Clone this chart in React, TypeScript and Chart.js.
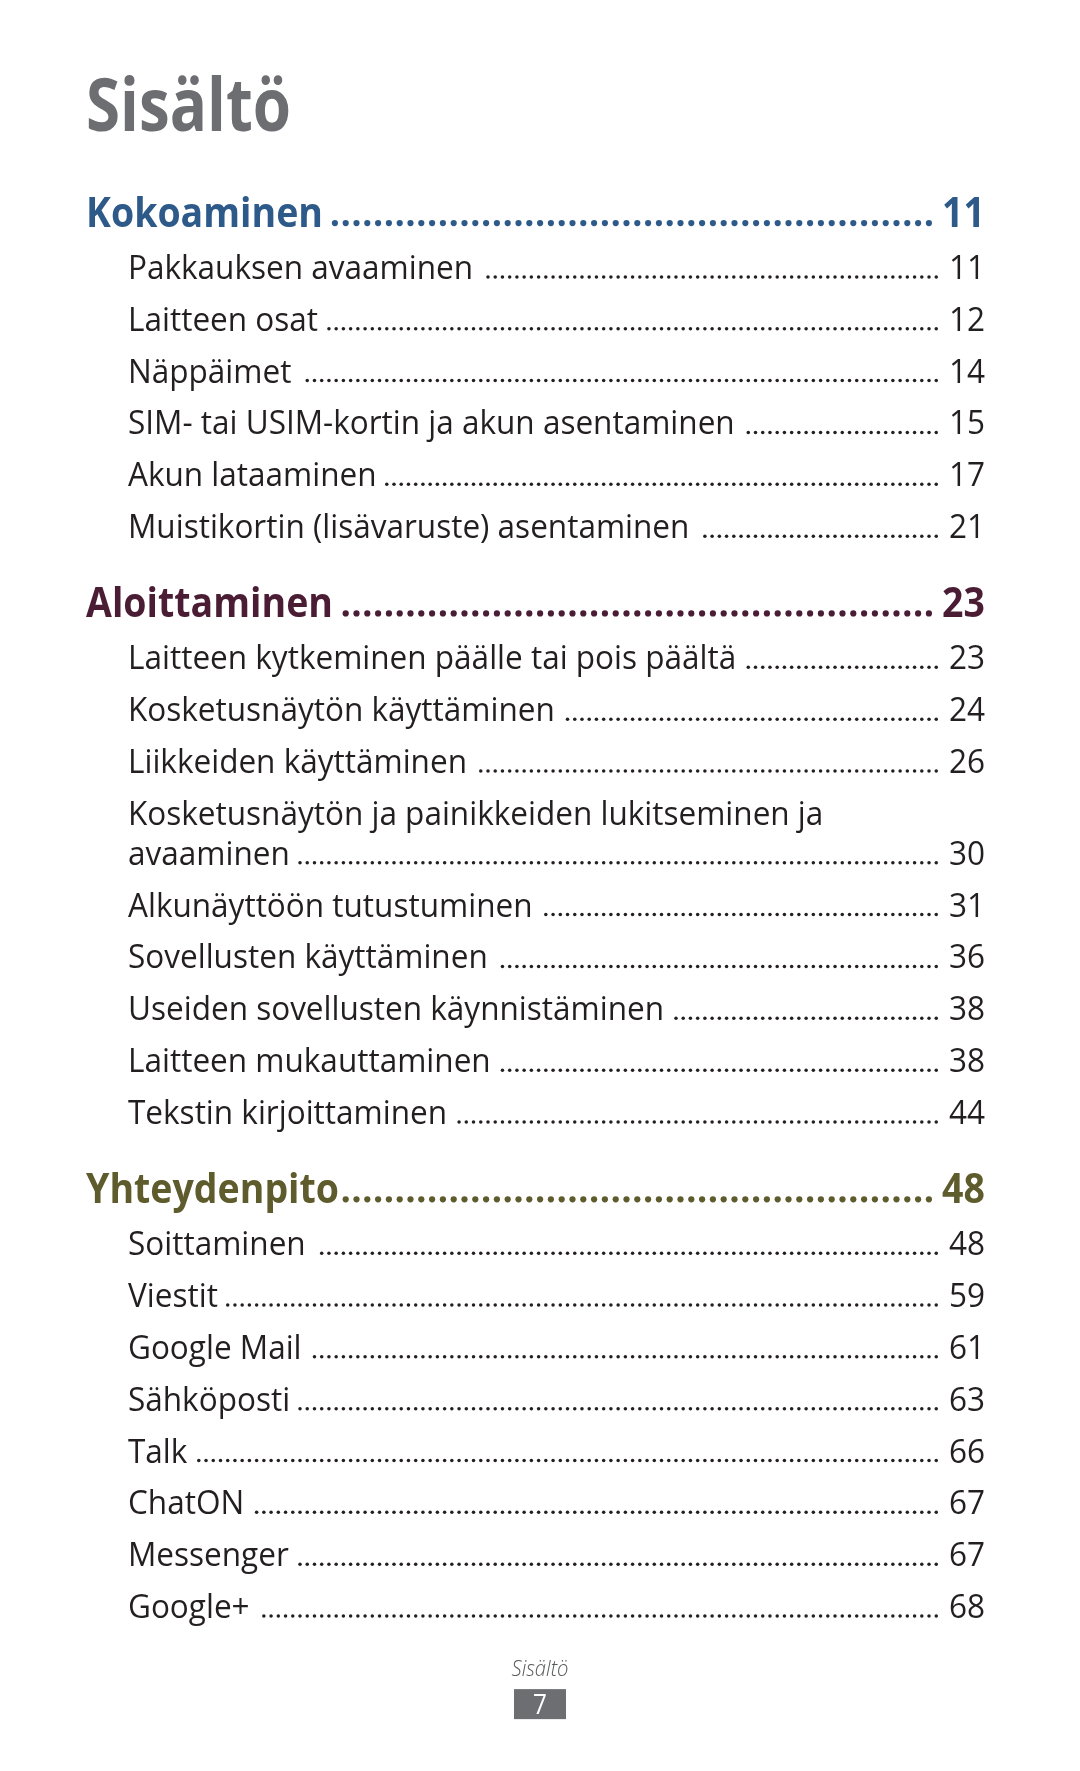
import React, { useEffect, useRef } from "react";
import { Chart, registerables } from "chart.js";

Chart.register(...registerables);

// ---------- content ----------
const TITLE = "Sisältö";
const SECTION_TITLES = ["Kokoaminen", "Aloittaminen", "Yhteydenpito"];
const SECTION_PAGES = ["11", "23", "48"];
const SECTION_COLORS = ["#2e5a8a", "#4a1d35", "#5e5b2d"];

const KOKOAMINEN_ITEMS = [
  "Pakkauksen avaaminen",
  "Laitteen osat",
  "Näppäimet",
  "SIM- tai USIM-kortin ja akun asentaminen",
  "Akun lataaminen",
  "Muistikortin (lisävaruste) asentaminen",
];
const KOKOAMINEN_PAGES = ["11", "12", "14", "15", "17", "21"];

const ALOITTAMINEN_ITEMS = [
  "Laitteen kytkeminen päälle tai pois päältä",
  "Kosketusnäytön käyttäminen",
  "Liikkeiden käyttäminen",
  "Kosketusnäytön ja painikkeiden lukitseminen ja\navaaminen",
  "Alkunäyttöön tutustuminen",
  "Sovellusten käyttäminen",
  "Useiden sovellusten käynnistäminen",
  "Laitteen mukauttaminen",
  "Tekstin kirjoittaminen",
];
const ALOITTAMINEN_PAGES = ["23", "24", "26", "30", "31", "36", "38", "38", "44"];

const YHTEYDENPITO_ITEMS = [
  "Soittaminen",
  "Viestit",
  "Google Mail",
  "Sähköposti",
  "Talk",
  "ChatON",
  "Messenger",
  "Google+",
];
const YHTEYDENPITO_PAGES = ["48", "59", "61", "63", "66", "67", "67", "68"];

const FOOTER_LABEL = "Sisältö";
const PAGE_NUMBER = "7";

// ---------- layout (row units on the y scale) ----------
const ROW = 1;
const HEADING_GAP = 1.53;
const WRAP_GAP = 0.77;
const TITLE_SLOT = -1.86;
const FOOTER_SLOT = 27.95;
const Y_MIN = -4.38;
const Y_MAX = 29.78;

const LEFT_HEAD = 86;
const LEFT_ENTRY = 128;
const RIGHT = 985;
const HEAD_LEADER_END = 932;
const ENTRY_LEADER_END = 938;

type Row = {
  kind: "heading" | "entry";
  lines: string[];
  page: string;
  color: string;
  slots: number[];
};

function buildRows(): Row[] {
  const sections = [
    [KOKOAMINEN_ITEMS, KOKOAMINEN_PAGES],
    [ALOITTAMINEN_ITEMS, ALOITTAMINEN_PAGES],
    [YHTEYDENPITO_ITEMS, YHTEYDENPITO_PAGES],
  ];
  const rows: Row[] = [];
  let slot = 0;
  sections.forEach(([items, pages], si) => {
    if (si > 0) slot += HEADING_GAP;
    rows.push({
      kind: "heading",
      lines: [SECTION_TITLES[si]],
      page: SECTION_PAGES[si],
      color: SECTION_COLORS[si],
      slots: [slot],
    });
    (items as string[]).forEach((it, i) => {
      slot += ROW;
      const lines = it.split("\n");
      const slots = [slot];
      for (let k = 1; k < lines.length; k++) {
        slot += WRAP_GAP;
        slots.push(slot);
      }
      rows.push({ kind: "entry", lines, page: (pages as string[])[i], color: "#231f20", slots });
    });
  });
  return rows;
}

const FAMILY = '"Open Sans", "Noto Sans", sans-serif';

function drawText(
  ctx: CanvasRenderingContext2D,
  text: string,
  x: number,
  y: number,
  font: string,
  color: string,
  sx: number,
  align: "left" | "right" | "center"
) {
  ctx.save();
  ctx.font = font;
  ctx.fillStyle = color;
  ctx.textBaseline = "alphabetic";
  ctx.textAlign = "left";
  const w = ctx.measureText(text).width * sx;
  const x0 = align === "right" ? x - w : align === "center" ? x - w / 2 : x;
  ctx.translate(x0, y);
  ctx.scale(sx, 1);
  ctx.fillText(text, 0, 0);
  ctx.restore();
  return { x0, x1: x0 + w };
}

function calib(ctx: CanvasRenderingContext2D, font: string, sample: string, target: number) {
  ctx.save();
  ctx.font = font;
  const w = ctx.measureText(sample).width;
  ctx.restore();
  return w > 0 ? target / w : 1;
}

function leader(
  ctx: CanvasRenderingContext2D,
  x0: number,
  x1: number,
  y: number,
  spacing: number,
  r: number,
  color: string
) {
  ctx.save();
  ctx.fillStyle = color;
  for (let x = x1 - r; x >= x0 + r; x -= spacing) {
    ctx.beginPath();
    ctx.arc(x, y, r, 0, Math.PI * 2);
    ctx.fill();
  }
  ctx.restore();
}

const tocPlugin = {
  id: "toc",
  afterDraw(chart: any) {
    const ctx: CanvasRenderingContext2D = chart.ctx;
    const xs = chart.scales.x;
    const ys = chart.scales.y;
    const X = (v: number) => xs.getPixelForValue(v);
    const Y = (v: number) => ys.getPixelForValue(v);

    const titleFont = `700 74px ${FAMILY}`;
    const headFont = `700 42px ${FAMILY}`;
    const entryFont = `400 32px ${FAMILY}`;
    const footFont = `italic 300 22px ${FAMILY}`;
    const pageFont = `400 27px ${FAMILY}`;

    const titleSx = calib(ctx, titleFont, TITLE, 205);
    const headSx = calib(ctx, headFont, "Kokoaminen", 237);
    const entrySx = calib(ctx, entryFont, "Pakkauksen avaaminen", 345);

    drawText(ctx, TITLE, X(LEFT_HEAD), Y(TITLE_SLOT), titleFont, "#6d6e71", titleSx, "left");

    buildRows().forEach((row) => {
      if (row.kind === "heading") {
        const y = Y(row.slots[0]);
        const t = drawText(ctx, row.lines[0], X(LEFT_HEAD), y, headFont, row.color, headSx, "left");
        drawText(ctx, row.page, X(RIGHT), y, headFont, row.color, headSx, "right");
        leader(ctx, t.x1 + 3, X(HEAD_LEADER_END), y - 4, 10.8, 3.1, row.color);
      } else {
        row.lines.forEach((line, i) => {
          const y = Y(row.slots[i]);
          const t = drawText(ctx, line, X(LEFT_ENTRY), y, entryFont, row.color, entrySx, "left");
          if (i === row.lines.length - 1) {
            drawText(ctx, row.page, X(RIGHT), y, entryFont, row.color, entrySx, "right");
            leader(ctx, t.x1 + 8, X(ENTRY_LEADER_END), y - 2, 7.23, 1.75, row.color);
          }
        });
      }
    });

    // footer
    const fy = Y(FOOTER_SLOT);
    drawText(ctx, FOOTER_LABEL, X(540), fy, footFont, "#58595b", 0.92, "center");
    ctx.save();
    ctx.fillStyle = "#6d6e71";
    ctx.fillRect(X(514), fy + 13, 52, 30);
    ctx.restore();
    drawText(ctx, PAGE_NUMBER, X(540), fy + 38, pageFont, "#ffffff", 0.9, "center");
  },
};

export default function App() {
  const ref = useRef<HTMLCanvasElement | null>(null);
  useEffect(() => {
    document.body.style.margin = "0";
    document.body.style.background = "#ffffff";
    const canvas = ref.current;
    if (!canvas) return;
    const chart = new Chart(canvas, {
      type: "scatter",
      data: { datasets: [] },
      options: {
        animation: false,
        responsive: false,
        devicePixelRatio: 1,
        layout: { padding: 0 },
        plugins: { legend: { display: false }, tooltip: { enabled: false } },
        scales: {
          x: { type: "linear", display: false, min: 0, max: 1080 },
          y: { type: "linear", display: false, min: Y_MIN, max: Y_MAX, reverse: true },
        },
      },
      plugins: [tocPlugin],
    });
    return () => chart.destroy();
  }, []);
  return <canvas ref={ref} width={1080} height={1771} style={{ display: "block" }} />;
}
